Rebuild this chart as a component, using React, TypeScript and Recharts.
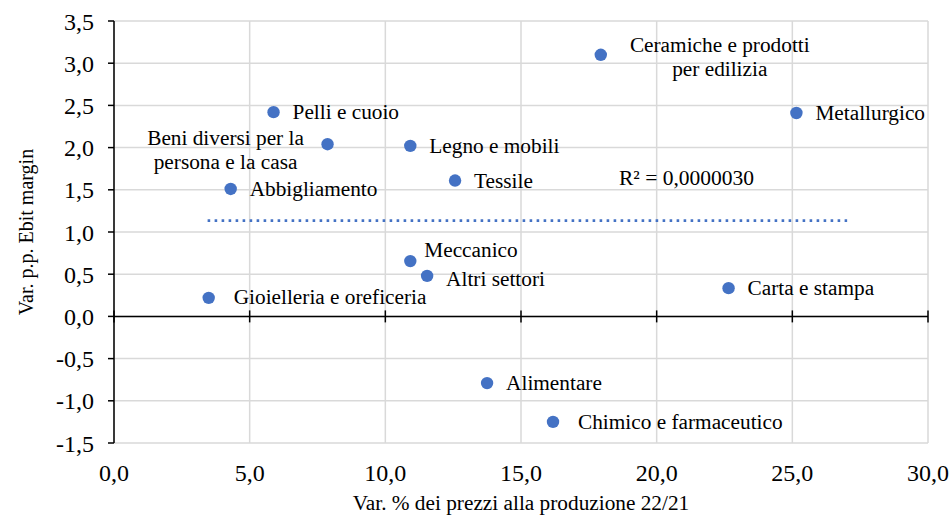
import {
  ScatterChart,
  Scatter,
  XAxis,
  YAxis,
  CartesianGrid,
  ReferenceLine,
  ReferenceDot,
} from "recharts";

// sectors and their values
const sectors = [
  "Ceramiche e prodotti per edilizia",
  "Metallurgico",
  "Pelli e cuoio",
  "Beni diversi per la persona e la casa",
  "Legno e mobili",
  "Abbigliamento",
  "Tessile",
  "Meccanico",
  "Altri settori",
  "Gioielleria e oreficeria",
  "Carta e stampa",
  "Alimentare",
  "Chimico e farmaceutico",
];
const priceChange = [17.94, 25.15, 5.88, 7.87, 10.92, 4.3, 12.57, 10.92, 11.54, 3.49, 22.65, 13.75, 16.18];
const ebitChange = [3.1, 2.41, 2.42, 2.04, 2.02, 1.51, 1.61, 0.655, 0.48, 0.22, 0.335, -0.79, -1.25];

// linear trend (almost flat)
const trendX = [3.45, 27.02];
const trendY = [1.135, 1.135];
const rSquared = "R² = 0,0000030";

const xTicks = [0, 5, 10, 15, 20, 25, 30];
const yTicks = [-1.5, -1, -0.5, 0, 0.5, 1, 1.5, 2, 2.5, 3, 3.5];

const points = sectors.map((name, i) => ({ name, x: priceChange[i], y: ebitChange[i] }));
const trend = trendX.map((x, i) => ({ x, y: trendY[i] }));

const BLUE = "#4472C4";
const FONT = "'Liberation Serif', 'Times New Roman', serif";

// where each data label sits relative to its point
const labelPos: Record<string, { dx: number; dy: number[]; anchor?: string; lines?: string[] }> = {
  "Ceramiche e prodotti per edilizia": {
    dx: 119,
    dy: [-3, 21],
    anchor: "middle",
    lines: ["Ceramiche e prodotti", "per edilizia"],
  },
  "Beni diversi per la persona e la casa": {
    dx: -102,
    dy: [1, 25],
    anchor: "middle",
    lines: ["Beni diversi per la", "persona e la casa"],
  },
  Meccanico: { dx: 14, dy: [-4] },
  "Altri settori": { dx: 19, dy: [10] },
  "Gioielleria e oreficeria": { dx: 25, dy: [6] },
  "Chimico e farmaceutico": { dx: 25, dy: [7] },
};

const fmt = (v: number) => v.toFixed(1).replace(".", ",");

const renderPoint = (props: any) => {
  const { cx, cy, payload } = props;
  const pos = labelPos[payload.name] || { dx: 19, dy: [7] };
  const lines = pos.lines || [payload.name];
  return (
    <g>
      <circle cx={cx} cy={cy} r={6.2} fill={BLUE} />
      {lines.map((line, i) => (
        <text
          key={i}
          x={cx + pos.dx}
          y={cy + pos.dy[i]}
          textAnchor={pos.anchor || "start"}
          fontFamily={FONT}
          fontSize={21.3}
          fill="#000"
        >
          {line}
        </text>
      ))}
    </g>
  );
};

export default function App() {
  return (
    <div style={{ position: "absolute", left: 0, top: 0, background: "#fff" }}>
      <ScatterChart width={952} height={521} margin={{ top: 21, right: 24, bottom: 0, left: 0 }}>
        <CartesianGrid stroke="#d9d9d9" strokeWidth={1.5} />
        <XAxis
          type="number"
          dataKey="x"
          domain={[0, 30]}
          ticks={xTicks}
          tickFormatter={fmt}
          axisLine={false}
          tickLine={false}
          tickSize={0}
          tickMargin={21}
          height={78}
          tick={{ fontSize: 24, fill: "#000", fontFamily: FONT }}
          label={{
            value: "Var. % dei prezzi alla produzione 22/21",
            position: "insideBottom",
            offset: 11,
            style: { fontSize: 21.3, fill: "#000", fontFamily: FONT },
          }}
        />
        <YAxis
          type="number"
          dataKey="y"
          domain={[-1.5, 3.5]}
          ticks={yTicks}
          tickFormatter={fmt}
          width={114}
          axisLine={{ stroke: "#000", strokeWidth: 1.5 }}
          tickLine={{ stroke: "#000", strokeWidth: 1.5 }}
          tickSize={6}
          tickMargin={14}
          tick={{ fontSize: 24, fill: "#000", fontFamily: FONT }}
          label={{
            value: "Var. p.p. Ebit margin",
            angle: -90,
            position: "insideLeft",
            offset: 26,
            style: { fontSize: 20, fill: "#000", fontFamily: FONT, textAnchor: "middle" },
          }}
        />
        <ReferenceLine y={0} stroke="#000" strokeWidth={1.5} />
        {xTicks.map((t) => (
          <ReferenceLine
            key={t}
            segment={[
              { x: t, y: -0.071 },
              { x: t, y: 0.071 },
            ]}
            stroke="#000"
            strokeWidth={1.5}
          />
        ))}
        <Scatter
          data={trend}
          line={{ stroke: BLUE, strokeWidth: 2.8, strokeDasharray: "2.6 4.4" }}
          shape={() => <g />}
          isAnimationActive={false}
        />
        <Scatter data={points} shape={renderPoint} isAnimationActive={false} />
        <ReferenceDot
          x={21.1}
          y={1.64}
          r={0}
          shape={(p: any) => (
            <text
              x={p.cx}
              y={p.cy + 7}
              textAnchor="middle"
              fontFamily={FONT}
              fontSize={21.5}
              fill="#000"
            >
              {rSquared}
            </text>
          )}
        />
      </ScatterChart>
    </div>
  );
}
